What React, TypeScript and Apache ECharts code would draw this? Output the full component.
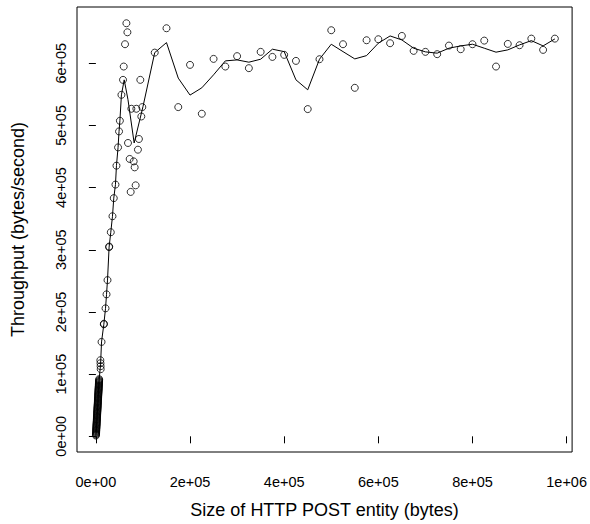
import React, { useEffect, useRef } from "react";
import * as echarts from "echarts";

// Small entities: dense column of measurements near the origin
const smallSizes: number[] = [
  100, 200, 300, 400, 500, 600, 700, 800, 900, 1000,
  1100, 1200, 1300, 1400, 1500, 1600, 1700, 1800, 1900, 2000,
  2100, 2200, 2300, 2400, 2500, 2600, 2700, 2800, 2900, 3000,
  3100, 3200, 3300, 3400, 3500, 3600, 3700, 3800, 3900, 4000,
  4100, 4200, 4300, 4400, 4500, 4600, 4700, 4800, 4900, 5000,
  5100, 5200, 5300, 5400, 5500, 5600, 5700, 5800, 5900, 6000,
  6100, 6200, 6300, 6400, 6500, 6600, 6700, 6800, 6900, 7000,
];
const smallThroughput: number[] = [
  1300, 2700, 3900, 5300, 6500, 7900, 9200, 10400, 11800, 13100,
  14300, 15700, 17000, 18300, 19600, 20900, 22200, 23500, 24800, 26200,
  27400, 28700, 30100, 31300, 32700, 33900, 35300, 36600, 37900, 39200,
  40500, 41800, 43100, 44400, 45800, 47000, 48400, 49700, 51000, 52300,
  53600, 54900, 56300, 57500, 58900, 60200, 61500, 62800, 64100, 65400,
  66700, 68000, 69300, 70700, 71900, 73300, 74600, 75900, 77200, 78500,
  79800, 81100, 82500, 83700, 85100, 86400, 87700, 89000, 90400, 91900,
];

// Medium and large entities: individual measurements (bytes, bytes/second)
const largeSizes: number[] = [
  9500, 9800, 10000, 10200, 12040, 16900, 17100, 20490, 22600, 24700, 28090, 28300, 31680, 35270, 38020,
  41610, 43720, 47100, 49210, 51000, 54280, 57660, 59140, 61900, 64840, 66950,
  68220, 71810, 73920, 75400, 80260, 82370, 84480, 85960, 89340, 91450, 94410, 96520, 98630,
  125000, 150000, 175000, 200000, 225000, 250000, 275000, 300000, 325000, 350000, 375000, 400000,
  425000, 450000, 475000, 500000, 525000, 550000, 575000, 600000, 625000, 650000, 675000, 700000,
  725000, 750000, 775000, 800000, 825000, 850000, 875000, 900000, 925000, 950000, 975000,
];
const largeThroughput: number[] = [
  122400, 117600, 112800, 108000, 151800, 180200, 181000, 205800, 228300, 251200, 304200, 305200, 328200, 353900, 383000,
  404800, 435200, 464600, 490300, 507400, 549100, 573200, 594600, 630500, 664200, 649700,
  471700, 446000, 393000, 526700, 442100, 432500, 403600, 526700, 460900, 478100, 573200, 514300, 529400,
  617000, 656200, 529400, 597300, 518700, 606900, 594600, 611300, 592000, 618200, 610100, 613400,
  603700, 526200, 606400, 653000, 630500, 560400, 636900, 638500, 632100, 643800, 619800, 618200,
  614500, 628300, 622500, 630500, 636300, 594600, 631000, 628900, 639500, 621400, 639500,
];

// Smoothed throughput curve
const curveSizes: number[] = [
  100, 3600, 7000, 9900, 12040, 16900, 20490, 22600, 24700, 28090, 31680, 35270, 38020, 41610, 43720,
  47100, 49210, 51000, 54280, 60200, 68220, 81300, 100000, 125000, 150000, 175000, 200000, 225000,
  250000, 275000, 300000, 325000, 350000, 375000, 400000, 425000, 450000, 475000, 500000, 525000,
  550000, 575000, 600000, 625000, 650000, 675000, 700000, 725000, 750000, 775000, 800000, 825000,
  850000, 875000, 900000, 925000, 950000, 975000,
];
const curveThroughput: number[] = [
  1300, 47000, 91900, 115000, 151800, 180200, 205800, 228300, 251200, 304200, 328200, 353900, 383000, 404800, 435200,
  464600, 490300, 507400, 549100, 573200, 541300, 471700, 530000, 617000, 633100, 576000, 548700, 560400,
  581300, 603700, 605300, 601600, 606400, 622500, 618600, 573200, 557200, 606400, 630500, 618600,
  606900, 612200, 632100, 643800, 637400, 624100, 618200, 616100, 624100, 627800, 630500, 624100,
  617700, 621400, 629400, 636300, 627800, 639000,
];

const xTicks: number[] = [0, 200000, 400000, 600000, 800000, 1000000];
const yTicks: number[] = [0, 100000, 200000, 300000, 400000, 500000, 600000];

const sci = (v: number): string => {
  if (v === 0) return "0e+00";
  const e = Math.floor(Math.log10(Math.abs(v)) + 1e-9);
  const m = Math.round(v / Math.pow(10, e));
  return `${m}e+${String(e).padStart(2, "0")}`;
};

const FONT = "'Liberation Sans', Arial, Helvetica, sans-serif";

export default function App() {
  const ref = useRef<HTMLDivElement>(null);
  useEffect(() => {
    if (!ref.current) return;
    const chart = echarts.init(ref.current, undefined, { renderer: "svg" });
    const sizes = smallSizes.concat(largeSizes);
    const thr = smallThroughput.concat(largeThroughput);
    const points = sizes.map((s, i) => [s, thr[i]]);
    const curve = curveSizes.map((s, i) => [s, curveThroughput[i]]);
    chart.setOption({
      animation: false,
      backgroundColor: "#ffffff",
      grid: {
        left: 77,
        top: 7,
        width: 498,
        height: 446,
        show: true,
        borderColor: "#000",
        borderWidth: 1,
        backgroundColor: "transparent",
      },
      xAxis: {
        type: "value",
        min: -40100,
        max: 1011600,
        splitLine: { show: false },
        axisLine: { show: false },
        axisTick: { show: true, length: 7, lineStyle: { color: "#000", width: 1 }, customValues: xTicks },
        axisLabel: {
          customValues: xTicks,
          formatter: (v: number) => sci(v),
          color: "#000",
          fontSize: 14.5,
          fontFamily: FONT,
          margin: 22,
        },
        name: "Size of HTTP POST entity (bytes)",
        nameLocation: "middle",
        nameGap: 49,
        nameTextStyle: { color: "#000", fontSize: 18, fontFamily: FONT },
      },
      yAxis: {
        type: "value",
        min: -25200,
        max: 690350,
        splitLine: { show: false },
        axisLine: { show: false },
        axisTick: { show: true, length: 7, lineStyle: { color: "#000", width: 1 }, customValues: yTicks },
        axisLabel: {
          customValues: yTicks,
          formatter: (v: number) => sci(v),
          color: "#000",
          fontSize: 14.5,
          fontFamily: FONT,
          rotate: 90,
          margin: 9,
        },
        name: "Throughput (bytes/second)",
        nameLocation: "middle",
        nameGap: 50,
        nameTextStyle: { color: "#000", fontSize: 18, fontFamily: FONT },
      },
      series: [
        {
          type: "line",
          data: curve,
          showSymbol: false,
          symbol: "none",
          lineStyle: { color: "#000", width: 1 },
          z: 2,
        },
        {
          type: "scatter",
          data: points,
          symbol: "circle",
          symbolSize: 7,
          itemStyle: { color: "rgba(0,0,0,0)", borderColor: "#000", borderWidth: 1 },
          z: 3,
        },
      ],
    });
    return () => chart.dispose();
  }, []);
  return (
    <div
      ref={ref}
      style={{ position: "absolute", left: 0, top: 0, width: 590, height: 524, background: "#fff" }}
    />
  );
}
